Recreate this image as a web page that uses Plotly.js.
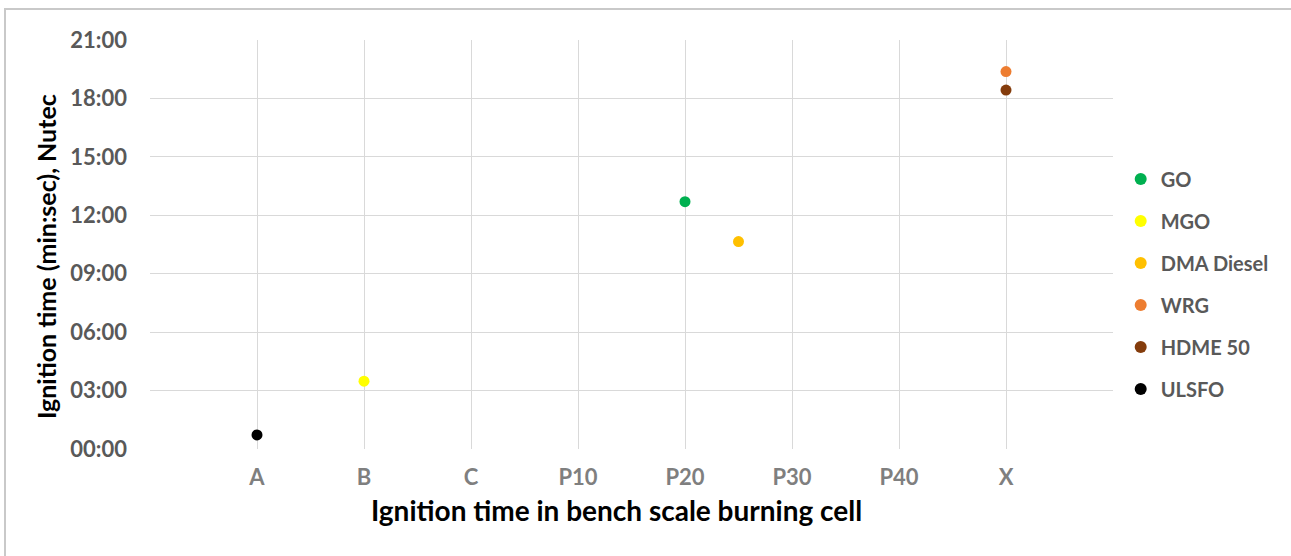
<!DOCTYPE html>
<html>
<head>
<meta charset="utf-8">
<script src="https://cdn.plot.ly/plotly-3.0.1.min.js"></script>
<style>
  html, body { margin: 0; padding: 0; background: #fff; }
  #chart { width: 1291px; height: 556px; }
  #frame { position: absolute; left: 4px; top: 8px; width: 1287px; height: 548px;
           border-left: 2px solid #c9c9c9; border-top: 2px solid #c9c9c9; pointer-events: none; }
</style>
</head>
<body>
<div id="chart"></div>
<div id="frame"></div>
<script>
// Category tick labels on the x axis (positions 1..8)
const categories = ["A", "B", "C", "P10", "P20", "P30", "P40", "X"];
const categoryPos = [1, 2, 3, 4, 5, 6, 7, 8];

// Series: name, x position (category index), ignition time in minutes
const seriesNames = ["GO", "MGO", "DMA Diesel", "WRG", "HDME 50", "ULSFO"];
const seriesX = [5, 2, 5.5, 8, 8, 1];
const seriesMinutes = [12.7, 3.48, 10.65, 19.38, 18.43, 0.72];
const seriesColors = ["#00b050", "#ffff00", "#ffc000", "#ed7d31", "#843c0c", "#000000"];

// Y ticks in minutes with mm:ss labels
const yTickVals = [0, 3, 6, 9, 12, 15, 18, 21];
const yTickText = ["00:00", "03:00", "06:00", "09:00", "12:00", "15:00", "18:00", "21:00"];

const xTitle = "Ignition time in bench scale burning cell";
const yTitle = "Ignition time (min:sec), Nutec";

function mmss(m) {
  const tot = Math.round(m * 60);
  const mm = Math.floor(tot / 60), ss = tot % 60;
  return String(mm).padStart(2, "0") + ":" + String(ss).padStart(2, "0");
}

const traces = seriesNames.map((n, i) => ({
  type: "scatter",
  mode: "markers",
  name: n,
  legendgroup: "g" + i,
  x: [seriesX[i]],
  y: [seriesMinutes[i]],
  text: [mmss(seriesMinutes[i])],
  hovertemplate: "%{text}<extra>" + n + "</extra>",
  marker: { color: seriesColors[i], size: 11 }
}));

const xTickVals = [0].concat(categoryPos, [9]);
const xTickText = [""].concat(categories, [""]);

const FONT = "Lato, 'Open Sans', 'DejaVu Sans', sans-serif";

const layout = {
  width: 1291,
  height: 556,
  margin: { l: 150, r: 178, t: 40, b: 107 },
  paper_bgcolor: "#ffffff",
  plot_bgcolor: "#ffffff",
  font: { family: FONT },
  showlegend: true,
  legend: {
    x: 1.008, xanchor: "left",
    y: 0.708, yanchor: "top",
    font: { family: FONT, size: 20, color: "#595959", weight: "bold" },
    tracegroupgap: 13,
    itemsizing: "constant",
    bgcolor: "rgba(0,0,0,0)"
  },
  xaxis: {
    range: [0, 9],
    tickmode: "array",
    tickvals: xTickVals,
    ticktext: xTickText,
    showgrid: true,
    gridcolor: "#d9d9d9",
    gridwidth: 1,
    zeroline: false,
    showline: false,
    ticks: "",
    ticklabelstandoff: 13,
    tickfont: { family: FONT, size: 22, color: "#7f7f7f", weight: "bold" }
  },
  yaxis: {
    range: [0, 21],
    tickmode: "array",
    tickvals: yTickVals,
    ticktext: yTickText,
    showgrid: true,
    gridcolor: "#d9d9d9",
    gridwidth: 1,
    zeroline: false,
    showline: false,
    ticks: "",
    ticklabelstandoff: 22,
    tickfont: { family: FONT, size: 22, color: "#595959", weight: "bold" }
  },
  annotations: [
    {
      text: xTitle, showarrow: false,
      xref: "paper", yref: "paper",
      x: (616 - 150) / 963, y: -(510 - 449) / 409,
      xanchor: "center", yanchor: "middle",
      font: { family: FONT, size: 28, color: "#000000", weight: "bold" }
    },
    {
      text: yTitle, showarrow: false, textangle: -90,
      xref: "paper", yref: "paper",
      x: -(150 - 46) / 963, y: (449 - 257) / 409,
      xanchor: "center", yanchor: "middle",
      font: { family: FONT, size: 25, color: "#000000", weight: "bold" }
    }
  ]
};

Plotly.newPlot("chart", traces, layout, { displayModeBar: false });
</script>
</body>
</html>
